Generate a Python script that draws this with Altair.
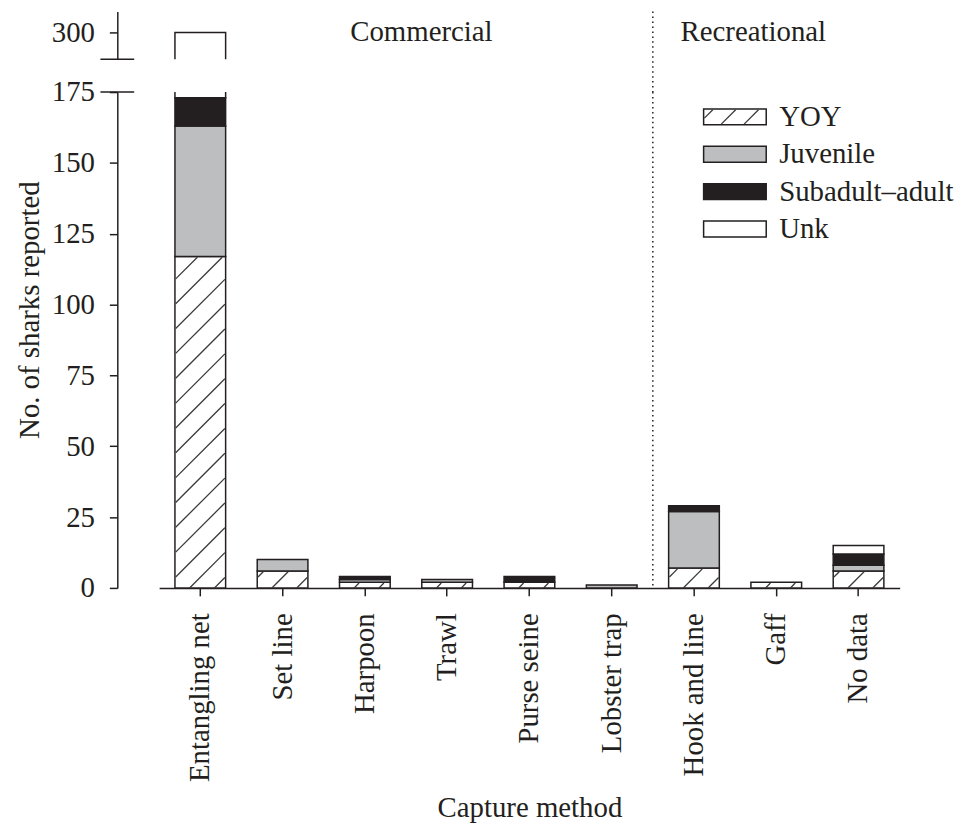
import altair as alt
import pandas as pd
import numpy as np

# ---------------- data ----------------
methods = ["Entangling net", "Set line", "Harpoon", "Trawl", "Purse seine",
           "Lobster trap", "Hook and line", "Gaff", "No data"]
stages = ["YOY", "Juvenile", "Subadult–adult", "Unk"]
yoy = [117, 6, 2, 2, 2, 0, 7, 2, 6]
juvenile = [46, 4, 1, 1, 0, 1, 20, 0, 2]
subadult = [10, 0, 1, 0, 2, 0, 2, 0, 4]
unk = [127, 0, 0, 0, 0, 0, 0, 0, 3]
lower_ticks = [0, 25, 50, 75, 100, 125, 150, 175]
upper_ticks = [300]
groups = ["Commercial", "Recreational"]

# ---------------- style / layout ----------------
FONT = "Liberation Serif"
FS = 29
INK = "#231f20"
GREY = "#bcbec0"
W, H_LO, H_UP, GAP = 843, 499, 48, 33
LO_DOM = [0, 175]
UP_DOM = [290.5, 307.4]
STEP = 82.8
X0 = 42.1
X1 = X0 + 9 * STEP
PAD_IN = 0.384
PAD_OUT = PAD_IN / 2
XDOT = X0 + 6 * STEP
GROUP_PX = [306, 640]

rows = []
for i, m in enumerate(methods):
    for j, vals in enumerate([yoy, juvenile, subadult, unk]):
        if vals[i] > 0:
            rows.append({"method": m, "stage": stages[j], "count": vals[i], "ord": j})
bars_df = pd.DataFrame(rows)


def hatch(w, h, spacing, phase):
    segs = []
    for k in range(-60, 60):
        c = phase + k * spacing
        xa = max(0.0, -c)
        xb = min(w, h - c)
        if xb - xa > 0.6:
            segs.append((xa, xa + c, xb, xb + c))
    return segs


px_per_unit = H_LO / (LO_DOM[1] - LO_DOM[0])
bw = STEP * (1 - PAD_IN)
h_rows = []
for i, v in enumerate(yoy):
    if v <= 0:
        continue
    for xa, ya, xb, yb in hatch(bw - 1.5, v * px_per_unit - 0.8, 25, 11):
        h_rows.append({
            "x1": i + PAD_OUT + (xa + 0.75) / STEP, "x2": i + PAD_OUT + (xb + 0.75) / STEP,
            "y1": ya / px_per_unit, "y2": yb / px_per_unit})
hatch_df = pd.DataFrame(h_rows)

LEG_X0, LEG_X1, LEG_TX = 590, 653, 666
LEG_Y0, LEG_DY, LEG_HALF = 25, 37.6, 8
leg_df = pd.DataFrame({"stage": stages, "i": list(range(len(stages)))})
lh_rows = []
for xa, ya, xb, yb in hatch(LEG_X1 - LEG_X0 - 1.5, 2 * LEG_HALF - 1.5, 23, 6):
    base = LEG_Y0 + LEG_HALF - 0.75
    lh_rows.append({"px1": LEG_X0 + 0.75 + xa, "px2": LEG_X0 + 0.75 + xb,
                    "py1": base - ya, "py2": base - yb})
leg_hatch_df = pd.DataFrame(lh_rows)
one = pd.DataFrame({"k": [0]})
grp_df = pd.DataFrame({"g": groups, "px": GROUP_PX})

xscale = alt.Scale(domain=methods, range=[X0, X1], paddingInner=PAD_IN, paddingOuter=PAD_OUT)
color = alt.Color("stage:N", scale=alt.Scale(domain=stages, range=["white", GREY, INK, "white"]),
                  legend=None)
order = alt.Order("ord:Q", sort="ascending")

# ---------------- lower panel ----------------
lo_bars = alt.Chart(bars_df).mark_bar(clip=True, stroke=INK, strokeWidth=1.5).encode(
    x=alt.X("method:N", sort=methods, scale=xscale,
            axis=alt.Axis(title="Capture method", labelAngle=270, labelPadding=17, tickSize=8,
                          titlePadding=12)),
    y=alt.Y("count:Q", stack=True, scale=alt.Scale(domain=LO_DOM, nice=False),
            axis=alt.Axis(values=lower_ticks, tickSize=8, labelPadding=15,
                          title="No. of sharks reported", titleX=-88, titleY=219,
                          titleBaseline="middle")),
    color=color, order=order)

lo_hatch = alt.Chart(hatch_df).mark_rule(color="#3a3a3a", strokeWidth=1.3).encode(
    x=alt.X("x1:Q", scale=alt.Scale(domain=[0, 9], range=[X0, X1], nice=False, zero=False), axis=None),
    x2="x2:Q",
    y=alt.Y("y1:Q"), y2="y2:Q")

leg_rect = alt.Chart(leg_df).transform_calculate(
    ya=f"{LEG_Y0} + datum.i * {LEG_DY} - {LEG_HALF}",
    yb=f"{LEG_Y0} + datum.i * {LEG_DY} + {LEG_HALF}").mark_rect(stroke=INK, strokeWidth=1.5).encode(
    x=alt.value(LEG_X0), x2=alt.value(LEG_X1),
    y=alt.Y("ya:Q", scale=None), y2="yb:Q", color=color)

leg_hatch = alt.Chart(leg_hatch_df).mark_rule(color="#3a3a3a", strokeWidth=1.3).encode(
    x=alt.X("px1:Q", scale=None), x2="px2:Q",
    y=alt.Y("py1:Q", scale=None), y2="py2:Q")

leg_text = alt.Chart(leg_df).transform_calculate(
    yc=f"{LEG_Y0} + datum.i * {LEG_DY}").mark_text(
    align="left", baseline="middle", font=FONT, fontSize=FS, color=INK).encode(
    x=alt.value(LEG_TX), y=alt.Y("yc:Q", scale=None), text="stage:N")

lo_break = alt.Chart(one).mark_rule(color=INK, strokeWidth=1.5).encode(
    y=alt.datum(175), x=alt.value(-17), x2=alt.value(17))

lo_dot = alt.Chart(one).mark_rule(color=INK, strokeWidth=1.5, strokeDash=[1.5, 3.5]).encode(
    x=alt.value(XDOT), y=alt.value(0), y2=alt.value(H_LO))

lower = alt.layer(lo_bars, lo_hatch, leg_rect, leg_hatch, leg_text, lo_break, lo_dot).resolve_scale(
    x="independent").properties(width=W, height=H_LO)

# ---------------- upper panel ----------------
up_bars = alt.Chart(bars_df).mark_bar(clip=True, stroke=INK, strokeWidth=1.5).encode(
    x=alt.X("method:N", sort=methods, scale=xscale, axis=None),
    y=alt.Y("count:Q", stack=True, scale=alt.Scale(domain=UP_DOM, nice=False, zero=False),
            axis=alt.Axis(values=upper_ticks, tickSize=8, labelPadding=15, title=None)),
    color=color, order=order)

up_text = alt.Chart(grp_df).mark_text(font=FONT, fontSize=FS, color=INK, baseline="middle").encode(
    x=alt.X("px:Q", scale=None), y=alt.datum(300), text="g:N")

up_break = alt.Chart(one).mark_rule(color=INK, strokeWidth=1.5).encode(
    y=alt.value(H_UP), x=alt.value(-17), x2=alt.value(17))

up_dot = alt.Chart(one).mark_rule(color=INK, strokeWidth=1.5, strokeDash=[1.5, 3.5]).encode(
    x=alt.value(XDOT), y=alt.value(0), y2=alt.value(H_UP + GAP))

upper = alt.layer(up_bars, up_text, up_break, up_dot).properties(width=W, height=H_UP)

chart = alt.vconcat(upper, lower, spacing=GAP, bounds="flush").resolve_scale(
    x="independent", y="independent", color="shared").properties(
    padding={"left": 8, "top": 0, "right": 5, "bottom": 0}).configure_view(stroke=None).configure_axis(
    labelFont=FONT, titleFont=FONT, labelFontSize=FS, titleFontSize=FS, labelColor=INK,
    titleColor=INK, titleFontWeight="normal", domainColor=INK, tickColor=INK,
    domainWidth=1.5, tickWidth=1.5, grid=False)

chart.save("out.html", embed_options={"renderer": "svg", "actions": False})
